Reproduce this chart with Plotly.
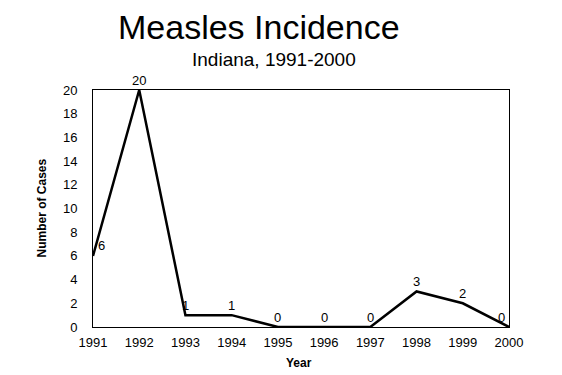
import plotly.graph_objects as go

years = [1991, 1992, 1993, 1994, 1995, 1996, 1997, 1998, 1999, 2000]
cases = [6, 20, 1, 1, 0, 0, 0, 3, 2, 0]
y_ticks = list(range(0, 21, 2))

FONT = "Liberation Sans, Arial, sans-serif"

fig = go.Figure()
fig.add_trace(go.Scatter(
    x=years, y=cases, mode="lines",
    line=dict(color="black", width=2.5),
    cliponaxis=False, showlegend=False,
))

n = len(years)
label_anns = []
for i, (yr, v) in enumerate(zip(years, cases)):
    xs = 8 if i == 0 else (-8 if i == n - 1 else 0)
    label_anns.append(dict(
        x=yr, y=v, xref="x", yref="y", text=str(v), showarrow=False,
        xanchor="center", yanchor="middle", xshift=xs, yshift=10,
        font=dict(family=FONT, size=13, color="black"),
    ))

fig.update_layout(
    width=554, height=367,
    margin=dict(l=85, r=53, t=82, b=48),
    paper_bgcolor="white", plot_bgcolor="white",
    font=dict(family=FONT, color="black", size=13),
    xaxis=dict(range=[1991, 2000], tickvals=years, ticktext=[str(y) for y in years],
               showgrid=False, zeroline=False, showline=True, linecolor="black",
               linewidth=1, mirror=True, ticks="", ticklabelstandoff=3,
               tickfont=dict(size=13)),
    yaxis=dict(range=[0, 20], tickvals=y_ticks, showgrid=False, zeroline=False,
               showline=True, linecolor="black", linewidth=1, mirror=True,
               ticks="", ticklabelstandoff=12, tickfont=dict(size=13)),
    annotations=label_anns + [
        dict(text="Measles Incidence", xref="paper", yref="paper", x=0.400, y=1.266,
             xanchor="center", yanchor="middle", showarrow=False,
             font=dict(family=FONT, size=34, color="black")),
        dict(text="Indiana, 1991-2000", xref="paper", yref="paper", x=0.435, y=1.128,
             xanchor="center", yanchor="middle", showarrow=False,
             font=dict(family=FONT, size=19, color="black")),
        dict(text="<b>Year</b>", xref="paper", yref="paper", x=0.495, y=-0.152,
             xanchor="center", yanchor="middle", showarrow=False,
             font=dict(family=FONT, size=12, color="black")),
        dict(text="<b>Number of Cases</b>", xref="paper", yref="paper", x=-0.125, y=0.5,
             xanchor="center", yanchor="middle", showarrow=False, textangle=-90,
             font=dict(family=FONT, size=12, color="black")),
    ],
)

fig.write_html("out.html")
